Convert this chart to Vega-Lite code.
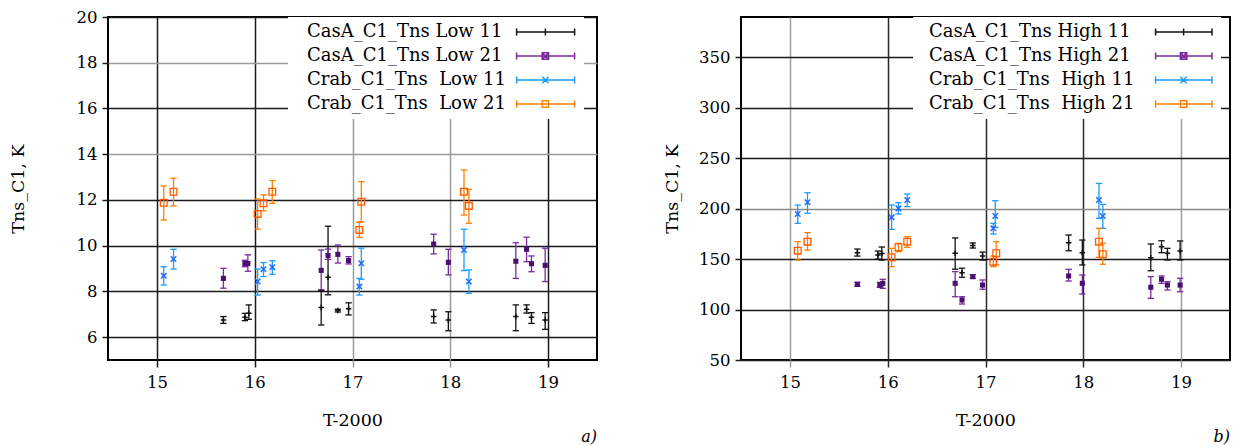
{
  "$schema": "https://vega.github.io/schema/vega-lite/v6.json",
  "autosize": {"type": "pad"},
  "padding": {"left": 8, "top": 8, "right": 0, "bottom": 0},
  "spacing": 144,
  "bounds": "flush",
  "resolve": {"scale": {"color": "independent", "shape": "independent"}, "legend": {"color": "independent", "shape": "independent"}},
  "datasets": {
    "low": [
      {"s": "A11", "t": 15.68, "v": 6.75, "lo": 6.6, "hi": 6.9},
      {"s": "A11", "t": 15.90, "v": 6.87, "lo": 6.72, "hi": 7.04},
      {"s": "A11", "t": 15.94, "v": 7.04, "lo": 6.78, "hi": 7.41},
      {"s": "A11", "t": 16.68, "v": 7.3, "lo": 6.53, "hi": 8.05},
      {"s": "A11", "t": 16.75, "v": 8.62, "lo": 7.85, "hi": 10.85},
      {"s": "A11", "t": 16.85, "v": 7.16, "lo": 7.1, "hi": 7.22},
      {"s": "A11", "t": 16.96, "v": 7.24, "lo": 6.97, "hi": 7.5},
      {"s": "A11", "t": 17.83, "v": 6.9, "lo": 6.62, "hi": 7.19},
      {"s": "A11", "t": 17.98, "v": 6.75, "lo": 6.28, "hi": 7.11},
      {"s": "A11", "t": 18.67, "v": 6.9, "lo": 6.28, "hi": 7.41},
      {"s": "A11", "t": 18.78, "v": 7.22, "lo": 7.05, "hi": 7.41},
      {"s": "A11", "t": 18.83, "v": 6.87, "lo": 6.6, "hi": 7.07},
      {"s": "A11", "t": 18.97, "v": 6.75, "lo": 6.34, "hi": 7.07},
      {"s": "A21", "t": 15.68, "v": 8.57, "lo": 8.14, "hi": 9.01},
      {"s": "A21", "t": 15.90, "v": 9.22, "lo": 9.08, "hi": 9.36},
      {"s": "A21", "t": 15.93, "v": 9.22, "lo": 8.88, "hi": 9.6},
      {"s": "A21", "t": 16.68, "v": 8.92, "lo": 8.06, "hi": 9.81},
      {"s": "A21", "t": 16.75, "v": 9.57, "lo": 9.4, "hi": 9.85},
      {"s": "A21", "t": 16.85, "v": 9.62, "lo": 9.24, "hi": 10.03},
      {"s": "A21", "t": 16.96, "v": 9.35, "lo": 9.2, "hi": 9.52},
      {"s": "A21", "t": 17.83, "v": 10.07, "lo": 9.64, "hi": 10.5},
      {"s": "A21", "t": 17.98, "v": 9.27, "lo": 8.72, "hi": 9.84},
      {"s": "A21", "t": 18.67, "v": 9.32, "lo": 8.57, "hi": 10.13},
      {"s": "A21", "t": 18.78, "v": 9.84, "lo": 9.3, "hi": 10.37},
      {"s": "A21", "t": 18.83, "v": 9.21, "lo": 8.86, "hi": 9.55},
      {"s": "A21", "t": 18.97, "v": 9.14, "lo": 8.43, "hi": 9.89},
      {"s": "C11", "t": 15.07, "v": 8.68, "lo": 8.28, "hi": 9.08},
      {"s": "C11", "t": 15.17, "v": 9.42, "lo": 8.98, "hi": 9.84},
      {"s": "C11", "t": 16.03, "v": 8.43, "lo": 7.84, "hi": 8.98},
      {"s": "C11", "t": 16.09, "v": 8.97, "lo": 8.65, "hi": 9.26},
      {"s": "C11", "t": 16.18, "v": 9.06, "lo": 8.75, "hi": 9.34},
      {"s": "C11", "t": 17.07, "v": 8.21, "lo": 7.84, "hi": 8.57},
      {"s": "C11", "t": 17.09, "v": 9.23, "lo": 8.53, "hi": 9.89},
      {"s": "C11", "t": 18.14, "v": 9.81, "lo": 8.91, "hi": 10.72},
      {"s": "C11", "t": 18.19, "v": 8.43, "lo": 7.92, "hi": 8.94},
      {"s": "C21", "t": 15.07, "v": 11.88, "lo": 11.12, "hi": 12.61},
      {"s": "C21", "t": 15.17, "v": 12.36, "lo": 11.74, "hi": 12.95},
      {"s": "C21", "t": 16.03, "v": 11.39, "lo": 10.72, "hi": 12.04},
      {"s": "C21", "t": 16.09, "v": 11.85, "lo": 11.52, "hi": 12.22},
      {"s": "C21", "t": 16.18, "v": 12.36, "lo": 11.85, "hi": 12.85},
      {"s": "C21", "t": 17.07, "v": 10.69, "lo": 10.37, "hi": 11.02},
      {"s": "C21", "t": 17.09, "v": 11.92, "lo": 11.05, "hi": 12.8},
      {"s": "C21", "t": 18.14, "v": 12.36, "lo": 11.34, "hi": 13.31},
      {"s": "C21", "t": 18.19, "v": 11.74, "lo": 10.98, "hi": 12.47}
    ],
    "high": [
      {"s": "B11", "t": 15.69, "v": 156.4, "lo": 153, "hi": 160},
      {"s": "B11", "t": 15.90, "v": 154, "lo": 150, "hi": 158},
      {"s": "B11", "t": 15.94, "v": 155.5, "lo": 149, "hi": 162},
      {"s": "B11", "t": 16.69, "v": 155.8, "lo": 140, "hi": 171},
      {"s": "B11", "t": 16.76, "v": 136.6, "lo": 132, "hi": 141},
      {"s": "B11", "t": 16.87, "v": 163.5, "lo": 161, "hi": 166},
      {"s": "B11", "t": 16.97, "v": 153, "lo": 149, "hi": 157},
      {"s": "B11", "t": 17.85, "v": 166.3, "lo": 158.3, "hi": 173.9},
      {"s": "B11", "t": 17.99, "v": 156.4, "lo": 144.2, "hi": 168.9},
      {"s": "B11", "t": 18.69, "v": 151.4, "lo": 138.5, "hi": 165},
      {"s": "B11", "t": 18.80, "v": 162.3, "lo": 156.4, "hi": 168.2},
      {"s": "B11", "t": 18.86, "v": 155.8, "lo": 149.1, "hi": 160.7},
      {"s": "B11", "t": 18.99, "v": 158, "lo": 149.1, "hi": 168},
      {"s": "B21", "t": 15.69, "v": 125, "lo": 123, "hi": 127},
      {"s": "B21", "t": 15.92, "v": 124.3, "lo": 122, "hi": 127},
      {"s": "B21", "t": 15.95, "v": 126, "lo": 121, "hi": 130},
      {"s": "B21", "t": 16.69, "v": 126, "lo": 112.7, "hi": 137.6},
      {"s": "B21", "t": 16.76, "v": 109.5, "lo": 105.5, "hi": 112.7},
      {"s": "B21", "t": 16.87, "v": 132.6, "lo": 131, "hi": 134.6},
      {"s": "B21", "t": 16.97, "v": 124.3, "lo": 120.1, "hi": 129.3},
      {"s": "B21", "t": 17.85, "v": 133.3, "lo": 128.3, "hi": 139.9},
      {"s": "B21", "t": 17.99, "v": 126, "lo": 115.4, "hi": 134.3},
      {"s": "B21", "t": 18.69, "v": 122.1, "lo": 111.1, "hi": 132.6},
      {"s": "B21", "t": 18.80, "v": 130, "lo": 126, "hi": 133.3},
      {"s": "B21", "t": 18.86, "v": 124.3, "lo": 119.4, "hi": 127.6},
      {"s": "B21", "t": 18.99, "v": 124.3, "lo": 117.7, "hi": 131},
      {"s": "D11", "t": 15.08, "v": 194.7, "lo": 185.5, "hi": 203.6},
      {"s": "D11", "t": 15.18, "v": 206.3, "lo": 195.4, "hi": 215.8},
      {"s": "D11", "t": 16.04, "v": 191.4, "lo": 179.5, "hi": 203.6},
      {"s": "D11", "t": 16.11, "v": 200.3, "lo": 194.7, "hi": 205.9},
      {"s": "D11", "t": 16.20, "v": 208.6, "lo": 202, "hi": 214.5},
      {"s": "D11", "t": 17.08, "v": 180.5, "lo": 174.9, "hi": 185.5},
      {"s": "D11", "t": 17.10, "v": 192.7, "lo": 181.5, "hi": 207.9},
      {"s": "D11", "t": 18.16, "v": 208.6, "lo": 190.5, "hi": 225},
      {"s": "D11", "t": 18.20, "v": 192.7, "lo": 180.5, "hi": 204.3},
      {"s": "D21", "t": 15.08, "v": 158.4, "lo": 149.1, "hi": 167.3},
      {"s": "D21", "t": 15.18, "v": 167.3, "lo": 159, "hi": 176.2},
      {"s": "D21", "t": 16.04, "v": 151.8, "lo": 142.5, "hi": 160.7},
      {"s": "D21", "t": 16.11, "v": 161.7, "lo": 157.4, "hi": 165.7},
      {"s": "D21", "t": 16.20, "v": 167.3, "lo": 161.7, "hi": 172.2},
      {"s": "D21", "t": 17.08, "v": 147.4, "lo": 142.5, "hi": 153.1},
      {"s": "D21", "t": 17.11, "v": 155.8, "lo": 144.2, "hi": 167.3},
      {"s": "D21", "t": 18.16, "v": 167.3, "lo": 151.8, "hi": 180.5},
      {"s": "D21", "t": 18.20, "v": 154.8, "lo": 144.9, "hi": 165.7}
    ]
  },
  "hconcat": [
    {
      "width": 489,
      "height": 343,
      "data": {"name": "low"},
      "title": {"text": "a)", "orient": "bottom", "anchor": "end", "font": "DejaVu Serif", "fontStyle": "italic", "fontWeight": "normal", "fontSize": 16, "offset": 0},
      "encoding": {
        "x": {
          "field": "t", "type": "quantitative",
          "scale": {"domain": [14.5, 19.5], "nice": false, "zero": false},
          "axis": {
            "title": "T-2000", "values": [15, 16, 17, 18, 19], "format": "d",
            "grid": true, "gridWidth": 1.5,
            "gridColor": {"condition": {"test": "datum.value === 17 || datum.value === 18", "value": "#9a9a9a"}, "value": "#1a1a1a"},
            "tickColor": {"condition": {"test": "datum.value === 17 || datum.value === 18", "value": "#9a9a9a"}, "value": "#1a1a1a"},
            "tickSize": 7, "labelPadding": 7, "titlePadding": 21
          }
        }
      },
      "layer": [
        {
          "transform": [{"filter": "false"}],
          "mark": {"type": "point", "filled": false, "opacity": 1},
          "encoding": {
            "y": {
              "field": "v", "type": "quantitative",
              "scale": {"domain": [5, 20], "nice": false, "zero": false},
              "axis": {
                "title": "Tns_C1, K", "values": [6, 8, 10, 12, 14, 16, 18, 20],
                "grid": true, "gridWidth": 1.5,
                "gridColor": {"condition": {"test": "datum.value === 14 || datum.value === 18", "value": "#9a9a9a"}, "value": "#1a1a1a"},
                "tickSize": 6, "labelPadding": 5, "titlePadding": 49
              }
            },
            "color": {
              "field": "s", "type": "nominal",
              "scale": {"domain": ["A11", "A21", "C11", "C21"], "range": ["#111111", "#7a2aa0", "#1a9cff", "#ff8000"]},
              "legend": {
                "orient": "none", "legendX": 180, "legendY": 0, "title": null,
                "fillColor": "white", "padding": 6, "rowPadding": 6,
                "labelFont": "DejaVu Serif", "labelFontSize": 18, "labelColor": "black", "labelOffset": -5, "labelLimit": 400,
                "symbolSize": 64, "symbolStrokeWidth": 1.5, "symbolOpacity": 1, "symbolFillColor": "transparent",
                "labelExpr": "datum.value === 'A11' ? 'CasA_C1_Tns Low 11' : datum.value === 'A21' ? 'CasA_C1_Tns Low 21' : datum.value === 'C11' ? 'Crab_C1_Tns\u00a0 Low 11' : 'Crab_C1_Tns\u00a0 Low 21'"
              }
            },
            "shape": {
              "field": "s", "type": "nominal",
              "scale": {
                "domain": ["A11", "A21", "C11", "C21"],
                "range": [
                  "M53.4,0H67.9M53.4,-0.9V0.9M67.9,-0.9V0.9M60.6,-0.9V0.9",
                  "M53.4,0H67.9M53.4,-0.9V0.9M67.9,-0.9V0.9M59.8,-0.8H61.4V0.8H59.8ZM59.8,-0.8L61.4,0.8M59.8,0.8L61.4,-0.8",
                  "M53.4,0H67.9M53.4,-0.9V0.9M67.9,-0.9V0.9M59.8,-0.8L61.4,0.8M59.8,0.8L61.4,-0.8",
                  "M53.4,0H67.9M53.4,-0.9V0.9M67.9,-0.9V0.9M59.8,-0.8H61.4V0.8H59.8Z"
                ]
              },
              "legend": {
                "orient": "none", "legendX": 180, "legendY": 0, "title": null,
                "fillColor": "white", "padding": 6, "rowPadding": 6,
                "labelFont": "DejaVu Serif", "labelFontSize": 18, "labelColor": "black", "labelOffset": -5, "labelLimit": 400,
                "symbolSize": 64, "symbolStrokeWidth": 1.5, "symbolOpacity": 1, "symbolFillColor": "transparent",
                "labelExpr": "datum.value === 'A11' ? 'CasA_C1_Tns Low 11' : datum.value === 'A21' ? 'CasA_C1_Tns Low 21' : datum.value === 'C11' ? 'Crab_C1_Tns\u00a0 Low 11' : 'Crab_C1_Tns\u00a0 Low 21'"
              }
            }
          }
        },
        {
          "mark": {"type": "rule", "strokeWidth": 1.3},
          "encoding": {
            "y": {"field": "lo", "type": "quantitative"},
            "y2": {"field": "hi"},
            "color": {"field": "s", "type": "nominal"}
          }
        },
        {
          "mark": {"type": "point", "shape": "stroke", "filled": false, "size": 40, "strokeWidth": 1.3, "opacity": 1},
          "encoding": {
            "y": {"field": "lo", "type": "quantitative"},
            "color": {"field": "s", "type": "nominal"}
          }
        },
        {
          "mark": {"type": "point", "shape": "stroke", "filled": false, "size": 40, "strokeWidth": 1.3, "opacity": 1},
          "encoding": {
            "y": {"field": "hi", "type": "quantitative"},
            "color": {"field": "s", "type": "nominal"}
          }
        },
        {
          "transform": [{"filter": "datum.s === 'A11'"}],
          "mark": {"type": "point", "shape": "M-1,0H1M0,-1V1", "filled": false, "color": "#111111", "strokeWidth": 1.5, "size": 30, "opacity": 1},
          "encoding": {"y": {"field": "v", "type": "quantitative"}}
        },
        {
          "transform": [{"filter": "datum.s === 'A21'"}],
          "mark": {"type": "point", "shape": "square", "filled": true, "color": "#4a1070", "size": 26, "opacity": 1},
          "encoding": {"y": {"field": "v", "type": "quantitative"}}
        },
        {
          "transform": [{"filter": "datum.s === 'C11'"}],
          "mark": {"type": "point", "shape": "M-1,-1L1,1M-1,1L1,-1", "filled": false, "color": "#1a6cff", "strokeWidth": 1.5, "size": 30, "opacity": 1},
          "encoding": {"y": {"field": "v", "type": "quantitative"}}
        },
        {
          "transform": [{"filter": "datum.s === 'C21'"}],
          "mark": {"type": "point", "shape": "square", "filled": false, "color": "#ff5a00", "strokeWidth": 1.3, "size": 45, "opacity": 1},
          "encoding": {"y": {"field": "v", "type": "quantitative"}}
        }
      ]
    },
    {
      "width": 489,
      "height": 343,
      "data": {"name": "high"},
      "title": {"text": "b)", "orient": "bottom", "anchor": "end", "font": "DejaVu Serif", "fontStyle": "italic", "fontWeight": "normal", "fontSize": 16, "offset": 0},
      "encoding": {
        "x": {
          "field": "t", "type": "quantitative",
          "scale": {"domain": [14.5, 19.5], "nice": false, "zero": false},
          "axis": {
            "title": "T-2000", "values": [15, 16, 17, 18, 19], "format": "d",
            "grid": true, "gridWidth": 1.5,
            "gridColor": {"condition": {"test": "datum.value >= 16 && datum.value <= 18", "value": "#2a2a2a"}, "value": "#a0a0a0"},
            "tickColor": {"condition": {"test": "datum.value >= 16 && datum.value <= 18", "value": "#2a2a2a"}, "value": "#a0a0a0"},
            "tickSize": 7, "labelPadding": 7, "titlePadding": 21
          }
        }
      },
      "layer": [
        {
          "transform": [{"filter": "false"}],
          "mark": {"type": "point", "filled": false, "opacity": 1},
          "encoding": {
            "y": {
              "field": "v", "type": "quantitative",
              "scale": {"domain": [50, 390], "nice": false, "zero": false},
              "axis": {
                "title": "Tns_C1, K", "values": [50, 100, 150, 200, 250, 300, 350],
                "grid": true, "gridWidth": 1.5,
                "gridColor": {"condition": {"test": "datum.value === 200", "value": "#8a8a8a"}, "value": "#1a1a1a"},
                "tickSize": 6, "labelPadding": 5, "titlePadding": 17
              }
            },
            "color": {
              "field": "s", "type": "nominal",
              "scale": {"domain": ["B11", "B21", "D11", "D21"], "range": ["#111111", "#7a2aa0", "#1a9cff", "#ff8000"]},
              "legend": {
                "orient": "none", "legendX": 172, "legendY": 0, "title": null,
                "fillColor": "white", "padding": 6, "rowPadding": 6,
                "labelFont": "DejaVu Serif", "labelFontSize": 18, "labelColor": "black", "labelOffset": -8, "labelLimit": 400,
                "symbolSize": 64, "symbolStrokeWidth": 1.5, "symbolOpacity": 1, "symbolFillColor": "transparent",
                "labelExpr": "datum.value === 'B11' ? 'CasA_C1_Tns High 11' : datum.value === 'B21' ? 'CasA_C1_Tns High 21' : datum.value === 'D11' ? 'Crab_C1_Tns\u00a0 High 11' : 'Crab_C1_Tns\u00a0 High 21'"
              }
            },
            "shape": {
              "field": "s", "type": "nominal",
              "scale": {
                "domain": ["B11", "B21", "D11", "D21"],
                "range": [
                  "M56.9,0H71M56.9,-0.9V0.9M71,-0.9V0.9M63.9,-0.9V0.9",
                  "M56.9,0H71M56.9,-0.9V0.9M71,-0.9V0.9M63.1,-0.8H64.7V0.8H63.1ZM63.1,-0.8L64.7,0.8M63.1,0.8L64.7,-0.8",
                  "M56.9,0H71M56.9,-0.9V0.9M71,-0.9V0.9M63.1,-0.8L64.7,0.8M63.1,0.8L64.7,-0.8",
                  "M56.9,0H71M56.9,-0.9V0.9M71,-0.9V0.9M63.1,-0.8H64.7V0.8H63.1Z"
                ]
              },
              "legend": {
                "orient": "none", "legendX": 172, "legendY": 0, "title": null,
                "fillColor": "white", "padding": 6, "rowPadding": 6,
                "labelFont": "DejaVu Serif", "labelFontSize": 18, "labelColor": "black", "labelOffset": -8, "labelLimit": 400,
                "symbolSize": 64, "symbolStrokeWidth": 1.5, "symbolOpacity": 1, "symbolFillColor": "transparent",
                "labelExpr": "datum.value === 'B11' ? 'CasA_C1_Tns High 11' : datum.value === 'B21' ? 'CasA_C1_Tns High 21' : datum.value === 'D11' ? 'Crab_C1_Tns\u00a0 High 11' : 'Crab_C1_Tns\u00a0 High 21'"
              }
            }
          }
        },
        {
          "mark": {"type": "rule", "strokeWidth": 1.3},
          "encoding": {
            "y": {"field": "lo", "type": "quantitative"},
            "y2": {"field": "hi"},
            "color": {"field": "s", "type": "nominal"}
          }
        },
        {
          "mark": {"type": "point", "shape": "stroke", "filled": false, "size": 40, "strokeWidth": 1.3, "opacity": 1},
          "encoding": {
            "y": {"field": "lo", "type": "quantitative"},
            "color": {"field": "s", "type": "nominal"}
          }
        },
        {
          "mark": {"type": "point", "shape": "stroke", "filled": false, "size": 40, "strokeWidth": 1.3, "opacity": 1},
          "encoding": {
            "y": {"field": "hi", "type": "quantitative"},
            "color": {"field": "s", "type": "nominal"}
          }
        },
        {
          "transform": [{"filter": "datum.s === 'B11'"}],
          "mark": {"type": "point", "shape": "M-1,0H1M0,-1V1", "filled": false, "color": "#111111", "strokeWidth": 1.5, "size": 30, "opacity": 1},
          "encoding": {"y": {"field": "v", "type": "quantitative"}}
        },
        {
          "transform": [{"filter": "datum.s === 'B21'"}],
          "mark": {"type": "point", "shape": "square", "filled": true, "color": "#4a1070", "size": 26, "opacity": 1},
          "encoding": {"y": {"field": "v", "type": "quantitative"}}
        },
        {
          "transform": [{"filter": "datum.s === 'D11'"}],
          "mark": {"type": "point", "shape": "M-1,-1L1,1M-1,1L1,-1", "filled": false, "color": "#1a6cff", "strokeWidth": 1.5, "size": 30, "opacity": 1},
          "encoding": {"y": {"field": "v", "type": "quantitative"}}
        },
        {
          "transform": [{"filter": "datum.s === 'D21'"}],
          "mark": {"type": "point", "shape": "square", "filled": false, "color": "#ff5a00", "strokeWidth": 1.3, "size": 45, "opacity": 1},
          "encoding": {"y": {"field": "v", "type": "quantitative"}}
        }
      ]
    }
  ],
  "config": {
    "font": "DejaVu Serif",
    "view": {"stroke": "black", "strokeWidth": 2},
    "axis": {
      "domain": false,
      "labelFont": "DejaVu Serif", "labelFontSize": 16.5, "labelColor": "black",
      "labelFlush": false, "labelOverlap": false,
      "titleFont": "DejaVu Serif", "titleFontSize": 17.5, "titleFontWeight": "normal", "titleColor": "black",
      "tickColor": "#1a1a1a", "tickWidth": 1.5
    }
  }
}
